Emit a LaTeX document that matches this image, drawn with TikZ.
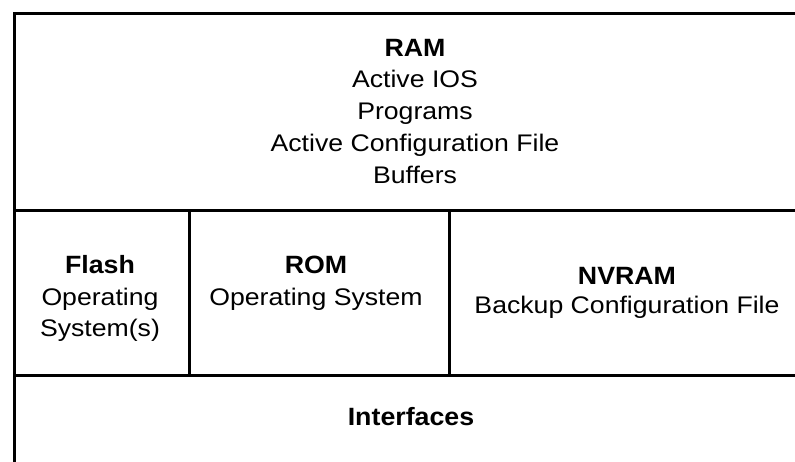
\documentclass[tikz,border=0pt]{standalone}
\usepackage{fontspec}
\setmainfont{Liberation Sans}[FakeStretch=1.11]
\newfontfamily\headfont{Liberation Sans}[FakeStretch=1.07]
\newcommand{\hd}[1]{{\headfont\bfseries\fontsize{25}{31.7}\selectfont #1}}
\begin{document}
\begin{tikzpicture}[x=1pt,y=-1pt,
  rule/.style={line width=3pt, line cap=rect},
  lbl/.style={align=center, font=\fontsize{24}{31.7}\selectfont, inner sep=0pt, anchor=base}]
  \useasboundingbox (0,0) rectangle (795,461);
  \clip (0,0) rectangle (795,461);
  % frame and panel dividers (the right side runs past the edge)
  \coordinate (topL) at (14.5,13);
  \coordinate (botL) at (14.5,470);
  \coordinate (topR) at (810,13);
  \coordinate (midL) at (14.5,210.5);
  \coordinate (midR) at (810,210.5);
  \coordinate (lowL) at (14.5,375.5);
  \coordinate (lowR) at (810,375.5);
  \coordinate (d1t) at (189,210.5);
  \coordinate (d1b) at (189,375.5);
  \coordinate (d2t) at (449,210.5);
  \coordinate (d2b) at (449,375.5);
  \draw[rule] (botL) -- (topL) -- (topR);
  \draw[rule] (midL) -- (midR);
  \draw[rule] (lowL) -- (lowR);
  \draw[rule] (d1t) -- (d1b);
  \draw[rule] (d2t) -- (d2b);
  % panel texts (anchored on the baseline of their last line)
  \node[lbl] (ram) at (415,183) {\hd{RAM}\\Active IOS\\Programs\\Active Configuration File\\Buffers};
  \node[lbl] (flash) at (100,336.7) {\hd{Flash}\\Operating\\System(s)};
  \node[lbl] (rom) at (316,305) {\hd{ROM}\\Operating System};
  \node[lbl, font=\fontsize{24}{28.5}\selectfont] (nvram) at (627,313.3) {\hd{NVRAM}\\Backup Configuration File};
  \node[lbl] (ifc) at (411,425.7) {\hd{Interfaces}};
\end{tikzpicture}
\end{document}
